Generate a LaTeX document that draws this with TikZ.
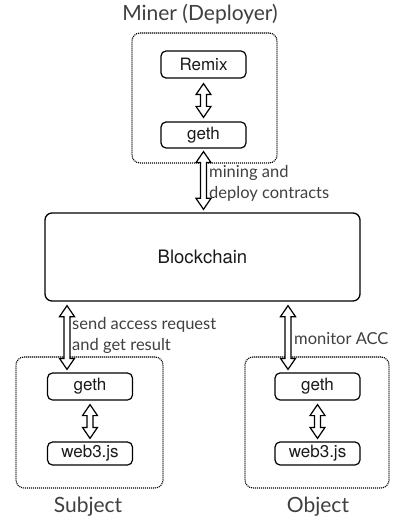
\documentclass[tikz,border=0pt]{standalone}
\usepackage{fontspec}
\usetikzlibrary{calc}
\newfontfamily\labfont{Lato}
\newfontfamily\boxfont{TeX Gyre Heros}
\definecolor{labgray}{HTML}{404040}
\definecolor{boxtext}{HTML}{1A1A1A}
\newcommand\dblarr[2]{%
  \draw[dblarrowstyle] let \p1=(#1), \p2=(#2) in
   (\x1,\y1) -- ({\x1+7.5pt},{\y1-11pt}) -- ({\x1+3pt},{\y1-11pt})
   -- ({\x1+3pt},{\y2+11pt}) -- ({\x1+7.5pt},{\y2+11pt}) -- (\x1,\y2)
   -- ({\x1-7.5pt},{\y2+11pt}) -- ({\x1-3pt},{\y2+11pt})
   -- ({\x1-3pt},{\y1-11pt}) -- ({\x1-7.5pt},{\y1-11pt}) -- cycle;}
\tikzset{
  stepbox/.style={draw, line width=1.2pt, rounded corners=5pt, inner sep=0pt,
    minimum width=85pt, text=boxtext, font=\boxfont\fontsize{17}{20}\selectfont},
  groupbox/.style={draw, line width=1.1pt, dash pattern=on 1.1pt off 0.9pt,
    rounded corners=8pt, inner sep=0pt},
  titlelbl/.style={inner sep=0pt, text=labgray, font=\labfont\fontsize{21}{24}\selectfont},
  edgelbl/.style={inner sep=0pt, anchor=west, align=left, text=labgray,
    font=\labfont\fontsize{16.5}{21}\selectfont},
  dblarrowstyle/.style={draw, fill=white, line width=1.2pt, line join=miter},
}
\begin{document}
\begin{tikzpicture}[x=1pt,y=-1pt]
\useasboundingbox[fill=white] (0,0) rectangle (395,521);
% groups
\node[groupbox, minimum width=145pt, minimum height=130pt] (minerg) at (204.5,98) {};
\node[groupbox, minimum width=147pt, minimum height=131pt] (subjg) at (89.5,422.5) {};
\node[groupbox, minimum width=144pt, minimum height=131pt] (objg) at (317,422.5) {};
% titles
\node[titlelbl, anchor=base] (minert) at (200,21) {Miner (Deployer)};
\node[titlelbl, anchor=base] (subjt) at (88,512) {Subject};
\node[titlelbl, anchor=base] (objt) at (318,512) {Object};
% nodes
\node[stepbox, minimum height=27pt] (remix) at (203.5,64.5) {Remix};
\node[stepbox, minimum height=26pt] (gm) at (203.5,135) {geth};
\node[draw, line width=1.3pt, rounded corners=7pt, minimum width=315pt, minimum height=88pt,
  text=boxtext, font=\boxfont\fontsize{18.5}{20}\selectfont] (bc) at (202.5,257) {Blockchain};
\node[stepbox, minimum height=27pt] (gs) at (90,386.5) {geth};
\node[stepbox, minimum height=23pt] (ws) at (90,453.5) {web3.js};
\node[stepbox, minimum height=27pt] (go) at (317.5,386.5) {geth};
\node[stepbox, minimum height=23pt] (wo) at (317.5,453.5) {web3.js};
% arrow columns
\coordinate (sx) at (67,0);
\coordinate (ox) at (288,0);
% connectors
\dblarr{$(remix.south)+(0,5)$}{$(gm.north)+(0,-4)$}
\dblarr{$(gm.south)+(0,3)$}{$(bc.north)+(0,-3)$}
\dblarr{$(bc.south -| sx)+(0,4)$}{$(gs.north -| sx)+(0,-3)$}
\dblarr{$(bc.south -| ox)+(0,4)$}{$(go.north -| ox)+(0,-3)$}
\dblarr{$(gs.south)+(0,4)$}{$(ws.north)+(0,-3)$}
\dblarr{$(go.south)+(0,4)$}{$(wo.north)+(0,-3)$}
% labels
\node[edgelbl] (lmine) at (209,183.5) {mining and\\deploy contracts};
\node[edgelbl] (lsend) at (72,335.5) {send access request\\and get result};
\node[edgelbl] (lmon) at (294,339) {monitor ACC};
\end{tikzpicture}
\end{document}
